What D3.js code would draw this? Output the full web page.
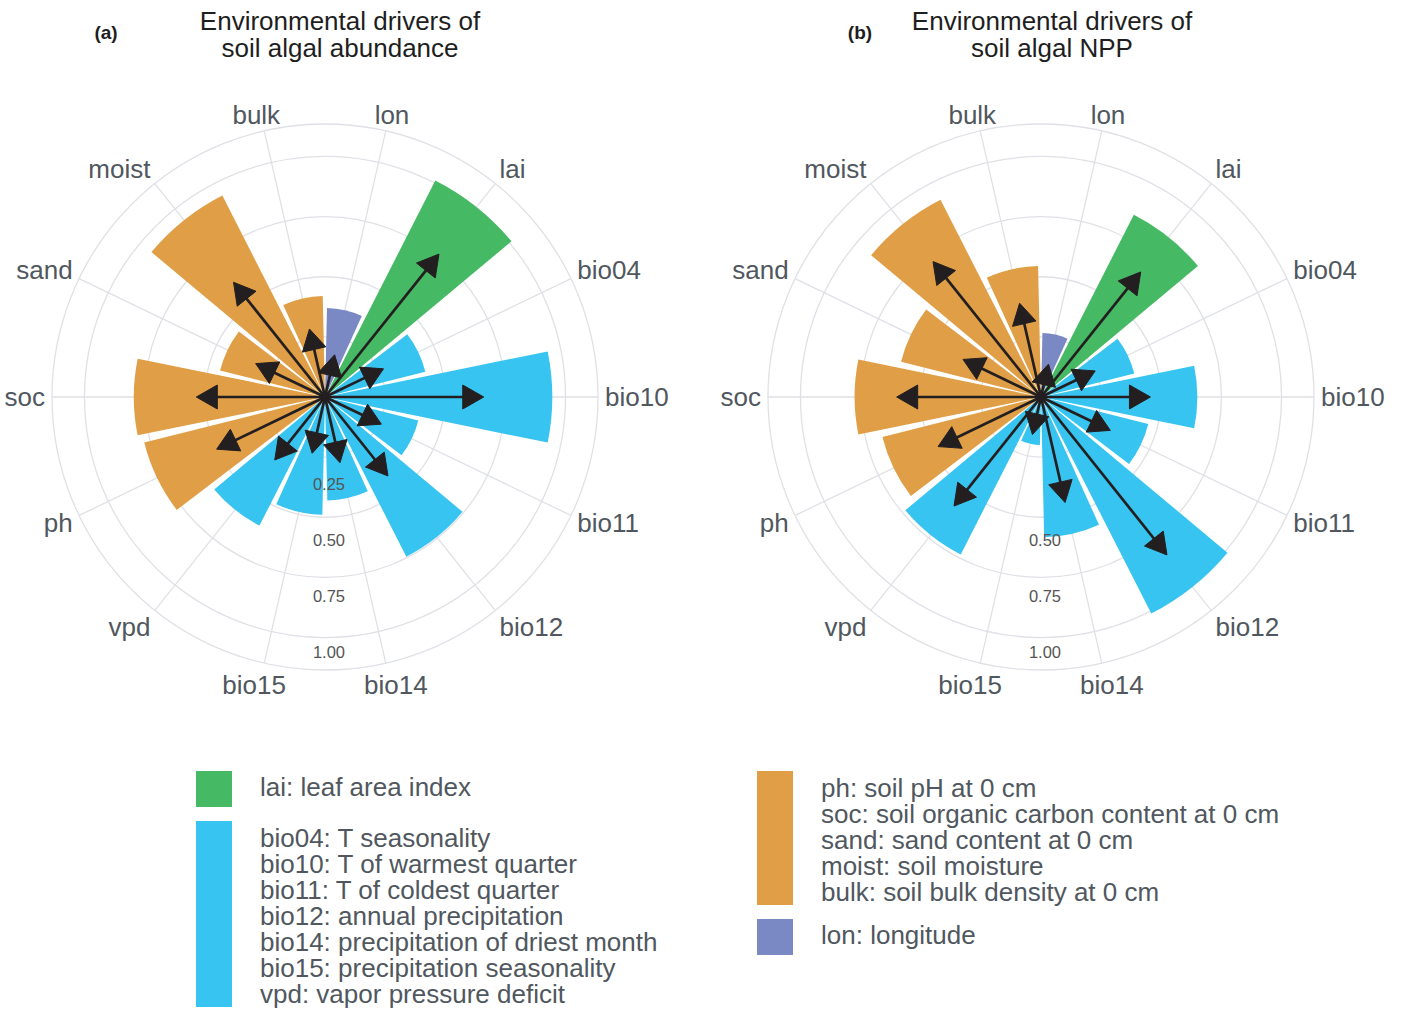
<!DOCTYPE html>
<html>
<head>
<meta charset="utf-8">
<script src="https://cdn.jsdelivr.net/npm/d3@7"></script>
<style>
  body { margin: 0; background: #fff; }
  svg text { font-family: "Liberation Sans", Arial, Helvetica, sans-serif; }
</style>
</head>
<body>
<svg id="chart" width="1402" height="1011"></svg>
<script>
// variables, clockwise from the top
const categories = ['lon', 'lai', 'bio04', 'bio10', 'bio11', 'bio12', 'bio14', 'bio15',
                    'vpd', 'ph', 'soc', 'sand', 'moist', 'bulk'];
const categoryGroup = ['lon', 'lai', 'climate', 'climate', 'climate', 'climate', 'climate', 'climate',
                       'climate', 'soil', 'soil', 'soil', 'soil', 'soil'];

// (a) abundance
const abundanceBars   = [0.37, 1.01, 0.43, 0.945, 0.40, 0.745, 0.43, 0.49, 0.60, 0.775, 0.795, 0.45, 0.94, 0.42];
const abundanceArrows = [0.18, 0.76, 0.27, 0.66, 0.26, 0.42, 0.28, 0.24, 0.335, 0.50, 0.535, 0.32, 0.61, 0.29];
// (b) NPP
const nppBars   = [0.266, 0.85, 0.40, 0.65, 0.46, 1.01, 0.583, 0.20, 0.735, 0.68, 0.775, 0.60, 0.92, 0.545];
const nppArrows = [0.14, 0.665, 0.25, 0.455, 0.32, 0.84, 0.45, 0.16, 0.58, 0.475, 0.60, 0.36, 0.72, 0.40];

const gridBreaks = [0.25, 0.5, 0.75, 1.0];
const abundanceTicks = ['0.25', '0.50', '0.75', '1.00'];
const nppTicks = ['0.50', '0.75', '1.00'];

const groupColors = {lai: '#46b964', climate: '#38c4f0', soil: '#e09f46', lon: '#7a88c4'};

const legendLeft = [
    {group: 'lai', lines: ['lai: leaf area index']},
    {group: 'climate', lines: ['bio04: T seasonality', 'bio10: T of warmest quarter', 'bio11: T of coldest quarter',
        'bio12: annual precipitation', 'bio14: precipitation of driest month',
        'bio15: precipitation seasonality', 'vpd: vapor pressure deficit']},
];
const legendRight = [
    {group: 'soil', lines: ['ph: soil pH at 0 cm', 'soc: soil organic carbon content at 0 cm',
        'sand: sand content at 0 cm', 'moist: soil moisture', 'bulk: soil bulk density at 0 cm']},
    {group: 'lon', lines: ['lon: longitude']},
];

const svg = d3.select('#chart');
const textGrey = '#50575e';
const gridGrey = '#dfe1e6';
const arrowColor = '#231f20';

const rMax = 273;
const rScale = d3.scaleLinear().domain([0, 1.135]).range([0, rMax]);
// radial tick labels sit just outside their circles
const rTickScale = d3.scaleLinear().domain([0, 1]).range([30.6, 254.9]);
const angle = d3.scaleBand()
    .domain(categories)
    .range([0, 2 * Math.PI])
    .paddingInner(0.1)
    .paddingOuter(0.05);
const mid = c => angle(c) + angle.bandwidth() / 2;
const clamp01 = v => Math.max(0, Math.min(1, v));

function drawPanel(p) {
    const g = svg.append('g').attr('transform', 'translate(' + p.cx + ',' + p.cy + ')');

    // grid circles
    g.selectAll('circle.grid')
        .data(gridBreaks.concat([rScale.domain()[1]]))
      .enter().append('circle')
        .attr('class', 'grid')
        .attr('r', d => rScale(d))
        .attr('fill', 'none')
        .attr('stroke', gridGrey)
        .attr('stroke-width', 1.3);

    // spokes
    g.selectAll('line.spoke')
        .data(categories)
      .enter().append('line')
        .attr('class', 'spoke')
        .attr('x1', 0).attr('y1', 0)
        .attr('x2', d => rMax * Math.sin(mid(d)))
        .attr('y2', d => -rMax * Math.cos(mid(d)))
        .attr('stroke', gridGrey)
        .attr('stroke-width', 1.3);

    // bars
    const arc = d3.arc()
        .innerRadius(0)
        .outerRadius(d => rScale(d.value))
        .startAngle(d => angle(d.cat))
        .endAngle(d => angle(d.cat) + angle.bandwidth());

    const barData = categories.map((c, i) => ({cat: c, group: categoryGroup[i], value: p.bars[i]}));
    g.selectAll('path.bar')
        .data(barData)
      .enter().append('path')
        .attr('class', 'bar')
        .attr('d', arc)
        .attr('fill', d => groupColors[d.group]);

    // radial tick labels
    g.selectAll('text.rtick')
        .data(p.ticks)
      .enter().append('text')
        .attr('class', 'rtick')
        .attr('x', 4)
        .attr('y', d => rTickScale(+d))
        .attr('text-anchor', 'middle')
        .attr('dominant-baseline', 'central')
        .attr('font-size', 16.5)
        .attr('fill', '#555')
        .text(d => d);

    // arrows
    const headLen = 21, headHalf = 12;
    const arrowData = categories.map((c, i) => ({cat: c, value: p.arrows[i]}));
    const arrows = g.selectAll('g.arrow')
        .data(arrowData)
      .enter().append('g')
        .attr('class', 'arrow');

    arrows.append('line')
        .attr('x1', 0).attr('y1', 0)
        .attr('x2', d => (rScale(d.value) - headLen / 2) * Math.sin(mid(d.cat)))
        .attr('y2', d => -(rScale(d.value) - headLen / 2) * Math.cos(mid(d.cat)))
        .attr('stroke', arrowColor)
        .attr('stroke-width', 2.7);

    arrows.append('path')
        .attr('d', d => {
            const t = mid(d.cat), r = rScale(d.value);
            const s = Math.sin(t), c = Math.cos(t);
            const tip = [r * s, -r * c];
            const b = [(r - headLen) * s, -(r - headLen) * c];
            return 'M' + tip + 'L' + [b[0] + headHalf * c, b[1] + headHalf * s] +
                   'L' + [b[0] - headHalf * c, b[1] - headHalf * s] + 'Z';
        })
        .attr('fill', arrowColor)
        .attr('stroke', arrowColor)
        .attr('stroke-width', 1)
        .attr('stroke-linejoin', 'miter');

    // category labels around the outside, pushed away from the ring
    const labelR = 280;
    g.selectAll('text.cat')
        .data(categories)
      .enter().append('text')
        .attr('class', 'cat')
        .attr('text-anchor', 'middle')
        .attr('dominant-baseline', 'central')
        .attr('font-size', 26)
        .attr('fill', textGrey)
        .text(d => d)
        .each(function(d) {
            const t = mid(d), w = this.getComputedTextLength();
            const s = Math.sin(t), c = Math.cos(t);
            const hx = Math.sign(s) * clamp01((Math.abs(s) - 0.1) * 2.2);
            const dy = c > 0 ? -clamp01((c - 0.1) * 2) * 9 : Math.max(0, -c - 0.2) * 19.4;
            d3.select(this)
                .attr('x', labelR * s + hx * w / 2)
                .attr('y', -labelR * c + dy);
        });

    // title and tag
    svg.append('text')
        .attr('x', p.titleX).attr('y', 30)
        .attr('text-anchor', 'middle')
        .attr('font-size', 26)
        .attr('fill', '#1e1e1e')
        .selectAll('tspan')
        .data(p.title)
      .enter().append('tspan')
        .attr('x', p.titleX)
        .attr('dy', (d, i) => i ? 27 : 0)
        .text(d => d);

    svg.append('text')
        .attr('x', p.tagX).attr('y', 39)
        .attr('text-anchor', 'middle')
        .attr('font-size', 19)
        .attr('font-weight', 'bold')
        .attr('fill', '#1e1e1e')
        .text(p.tag);
}

drawPanel({cx: 325, cy: 397, bars: abundanceBars, arrows: abundanceArrows, ticks: abundanceTicks,
           title: ['Environmental drivers of', 'soil algal abundance'], titleX: 340, tag: '(a)', tagX: 106});
drawPanel({cx: 1041, cy: 397, bars: nppBars, arrows: nppArrows, ticks: nppTicks,
           title: ['Environmental drivers of', 'soil algal NPP'], titleX: 1052, tag: '(b)', tagX: 860});

// legend
const lineH = 26, keyW = 36;
function drawLegend(items, x, y0) {
    let y = y0;
    items.forEach(item => {
        const n = item.lines.length;
        const h = Math.max(36, n * lineH + 4);
        const g = svg.append('g').attr('transform', 'translate(' + x + ',' + y + ')');
        g.append('rect')
            .attr('width', keyW).attr('height', h)
            .attr('fill', groupColors[item.group]);
        const first = (h - n * lineH) / 2 + (n > 1 ? 23.5 : 20);
        g.selectAll('text')
            .data(item.lines)
          .enter().append('text')
            .attr('x', 64)
            .attr('y', (d, i) => first + i * lineH)
            .attr('font-size', 26)
            .attr('fill', textGrey)
            .text(d => d);
        y += h + 14;
    });
}
drawLegend(legendLeft, 196, 771);
drawLegend(legendRight, 757, 771);
</script>
</body>
</html>
